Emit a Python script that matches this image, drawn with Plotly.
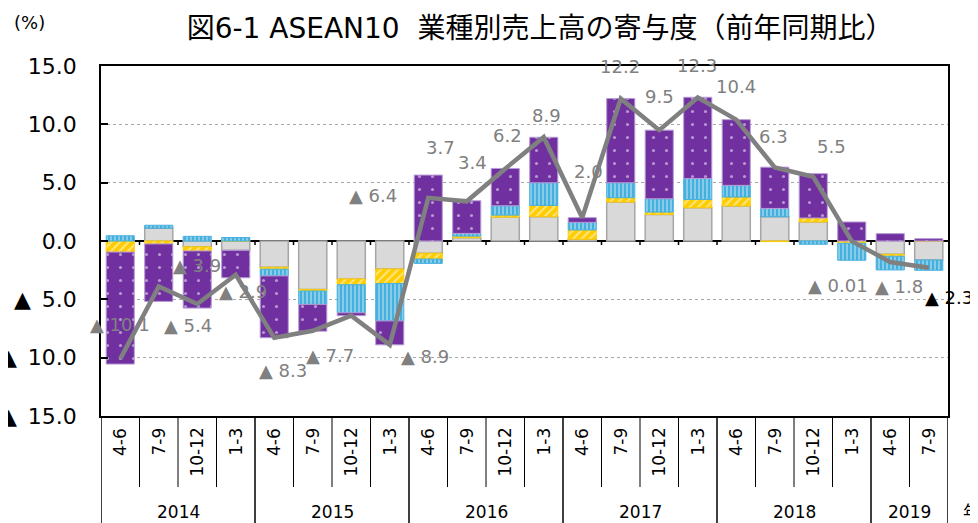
import plotly.graph_objects as go

# quarters (fiscal years Apr-Mar), contributions by segment (% pt), and the total
QUARTERS = ["4-6", "7-9", "10-12", "1-3", "4-6", "7-9", "10-12", "1-3",
            "4-6", "7-9", "10-12", "1-3", "4-6", "7-9", "10-12", "1-3",
            "4-6", "7-9", "10-12", "1-3", "4-6", "7-9"]
YEARS = ["2014", "2015", "2016", "2017", "2018", "2019"]
YEAR_QUARTERS = [4, 4, 4, 4, 4, 2]

GRAY = [0.0, 1.1, -0.5, -0.8, -2.25, -4.15, -3.25, -2.4, -1.05, 0.28, 2.05,
        2.08, 0.15, 3.34, 2.28, 2.85, 3.0, 2.08, 1.63, 0.0, -1.14, -1.63]
YELLOW = [-0.95, -0.25, -0.35, 0.0, -0.17, -0.14, -0.5, -1.25, -0.5, 0.14, 0.17,
          0.97, 0.8, 0.37, 0.2, 0.71, 0.77, -0.05, 0.34, -0.2, -0.17, 0.0]
BLUE = [0.45, 0.25, 0.4, 0.3, -0.57, -1.14, -2.4, -3.2, -0.37, 0.23, 0.8,
        1.94, 0.65, 1.28, 1.14, 1.8, 1.0, 0.71, -0.28, -1.45, -1.17, -0.88]
PURPLE = [-9.6, -4.93, -4.9, -2.35, -5.3, -2.3, -0.25, -2.05, 5.65, 2.8, 3.2,
          3.9, 0.4, 7.22, 5.88, 6.96, 5.63, 3.54, 3.8, 1.63, 0.63, 0.2]
TOTAL = [-10.1, -3.9, -5.4, -2.9, -8.3, -7.7, -6.4, -8.9, 3.7, 3.4, 6.2,
         8.9, 2.0, 12.2, 9.5, 12.3, 10.4, 6.3, 5.5, -0.01, -1.8, -2.3]
TOTAL_LABELS = ["▲ 10.1", "▲ 3.9", "▲ 5.4", "▲ 2.9", "▲ 8.3", "▲ 7.7", "▲ 6.4",
                "▲ 8.9", "3.7", "3.4", "6.2", "8.9", "2.0", "12.2", "9.5", "12.3",
                "10.4", "6.3", "5.5", "▲ 0.01", "▲ 1.8", "▲ 2.3"]

GAP = "\u2002"
Y_TICKS = [-15, -10, -5, 0, 5, 10, 15]
Y_TICK_TEXT = ["▲" + GAP + "15.0", "▲" + GAP + "10.0", "▲" + GAP + "5.0",
               "0.0", "5.0", "10.0", "15.0"]

# pixel offsets of the data labels (right, up), as hand-placed in the original
LABEL_SHIFT = [(0, 34), (38, 21), (-9, -21), (7, -17), (9, -33), (17, -25),
               (22, 120), (35, -12), (12, 50), (6, 39), (2, 33), (3, 22),
               (6, 46), (-1, 32), (0, 34), (-1, 32), (0, 33), (-1, 31),
               (18, 30), (-14, -44), (9, -24), (20, -30)]

FONT = "DejaVu Sans, Noto Sans CJK JP, sans-serif"
xs = list(range(len(QUARTERS)))

fig = go.Figure()
segments = [
    (GRAY, "#D9D9D9", "#A6A6A6", 1.5, dict(shape="")),
    (YELLOW, "#FFCC00", "#FFCC00", 1, dict(shape="/", fgcolor="white", bgcolor="#FFCC00",
                                           size=6, solidity=0.35)),
    (BLUE, "#45B0DD", "#45B0DD", 1, dict(shape="|", fgcolor="white", bgcolor="#45B0DD",
                                         size=4, solidity=0.35)),
    (PURPLE, "#7030A0", "#B79BD6", 1, dict(shape=".", fgcolor="white", bgcolor="#7030A0",
                                           size=13, solidity=0.045)),
]
for vals, color, edge, lw, pattern in segments:
    fig.add_trace(go.Bar(x=xs, y=vals, marker=dict(color=color, line=dict(color=edge, width=lw),
                                                   pattern=pattern), showlegend=False))

fig.add_trace(go.Scatter(x=xs, y=TOTAL, mode="lines", line=dict(color="#808080", width=4.5),
                         showlegend=False))

for i, (txt, (dx, dy)) in enumerate(zip(TOTAL_LABELS, LABEL_SHIFT)):
    fig.add_annotation(x=xs[i], y=TOTAL[i], text=txt, showarrow=False, xshift=dx, yshift=dy,
                       xanchor="center", yanchor="middle",
                       font=dict(size=18, color="black" if i == len(xs) - 1 else "#808080"))

# small ticks on the zero line at quarter boundaries
for i in xs[:-1]:
    fig.add_shape(type="line", x0=i + 0.5, x1=i + 0.5, y0=0, y1=-0.35, xref="x", yref="y",
                  line=dict(color="black", width=1.5))

# category axis below the plot: quarters rotated, years underneath
for i, q in enumerate(QUARTERS):
    fig.add_annotation(x=xs[i], y=-0.028, xref="x", yref="paper", text=q, textangle=-90,
                       showarrow=False, xanchor="center", yanchor="top",
                       font=dict(size=17, color="black"))

start = 0
year_edges = [-0.5]
for year, n in zip(YEARS, YEAR_QUARTERS):
    fig.add_annotation(x=start + (n - 1) / 2, y=-0.274, xref="x", yref="paper", text=year,
                       showarrow=False, xanchor="center", yanchor="middle",
                       font=dict(size=17, color="black"))
    start += n
    year_edges.append(start - 0.5)

for i in xs[1:]:
    edge = i - 0.5
    if edge not in year_edges:
        fig.add_shape(type="line", x0=edge, x1=edge, y0=0, y1=-0.203, xref="x", yref="paper",
                      line=dict(color="black", width=1))
for edge in year_edges:
    fig.add_shape(type="line", x0=edge, x1=edge, y0=0, y1=-0.32, xref="x", yref="paper",
                  line=dict(color="black", width=1.5))

fig.add_annotation(x=(961 - 101) / 847, y=(416 - 512) / 350, xref="paper", yref="paper",
                   text="年", showarrow=False, xanchor="left", yanchor="middle",
                   font=dict(size=17, color="black"))
fig.add_annotation(x=-0.105, y=1.125, xref="paper", yref="paper", text="(%)", showarrow=False,
                   xanchor="left", yanchor="middle", font=dict(size=18, color="black"))

# the page body adds an 8px offset, so margins are shifted to keep the plot in place
fig.update_layout(
    width=978, height=523, margin=dict(l=93, r=38, t=58, b=115),
    paper_bgcolor="white", plot_bgcolor="white", barmode="relative", bargap=0.27,
    font=dict(family=FONT, color="black"),
    title=dict(text="図6-1 ASEAN10  業種別売上高の寄与度（前年同期比）", x=0.544, xanchor="center",
               y=0.962, yanchor="middle", font=dict(size=28, color="black")),
)
fig.update_xaxes(range=[-0.5, len(xs) - 0.5], showticklabels=False, ticks="", showgrid=False,
                 zeroline=False, showline=True, mirror=True, linecolor="black", linewidth=1.5,
                 automargin=False)
fig.update_yaxes(range=[-15, 15], tickvals=Y_TICKS, ticktext=Y_TICK_TEXT, ticks="inside",
                 ticklen=7, tickwidth=2, tickcolor="black", ticklabelstandoff=18,
                 tickfont=dict(size=22, color="black"), showgrid=True, gridcolor="#A6A6A6",
                 griddash="dot", gridwidth=1, zeroline=True, zerolinecolor="black",
                 zerolinewidth=2, showline=True, mirror=True, linecolor="black", linewidth=1.5,
                 automargin=False)

fig.write_html("out.html")
